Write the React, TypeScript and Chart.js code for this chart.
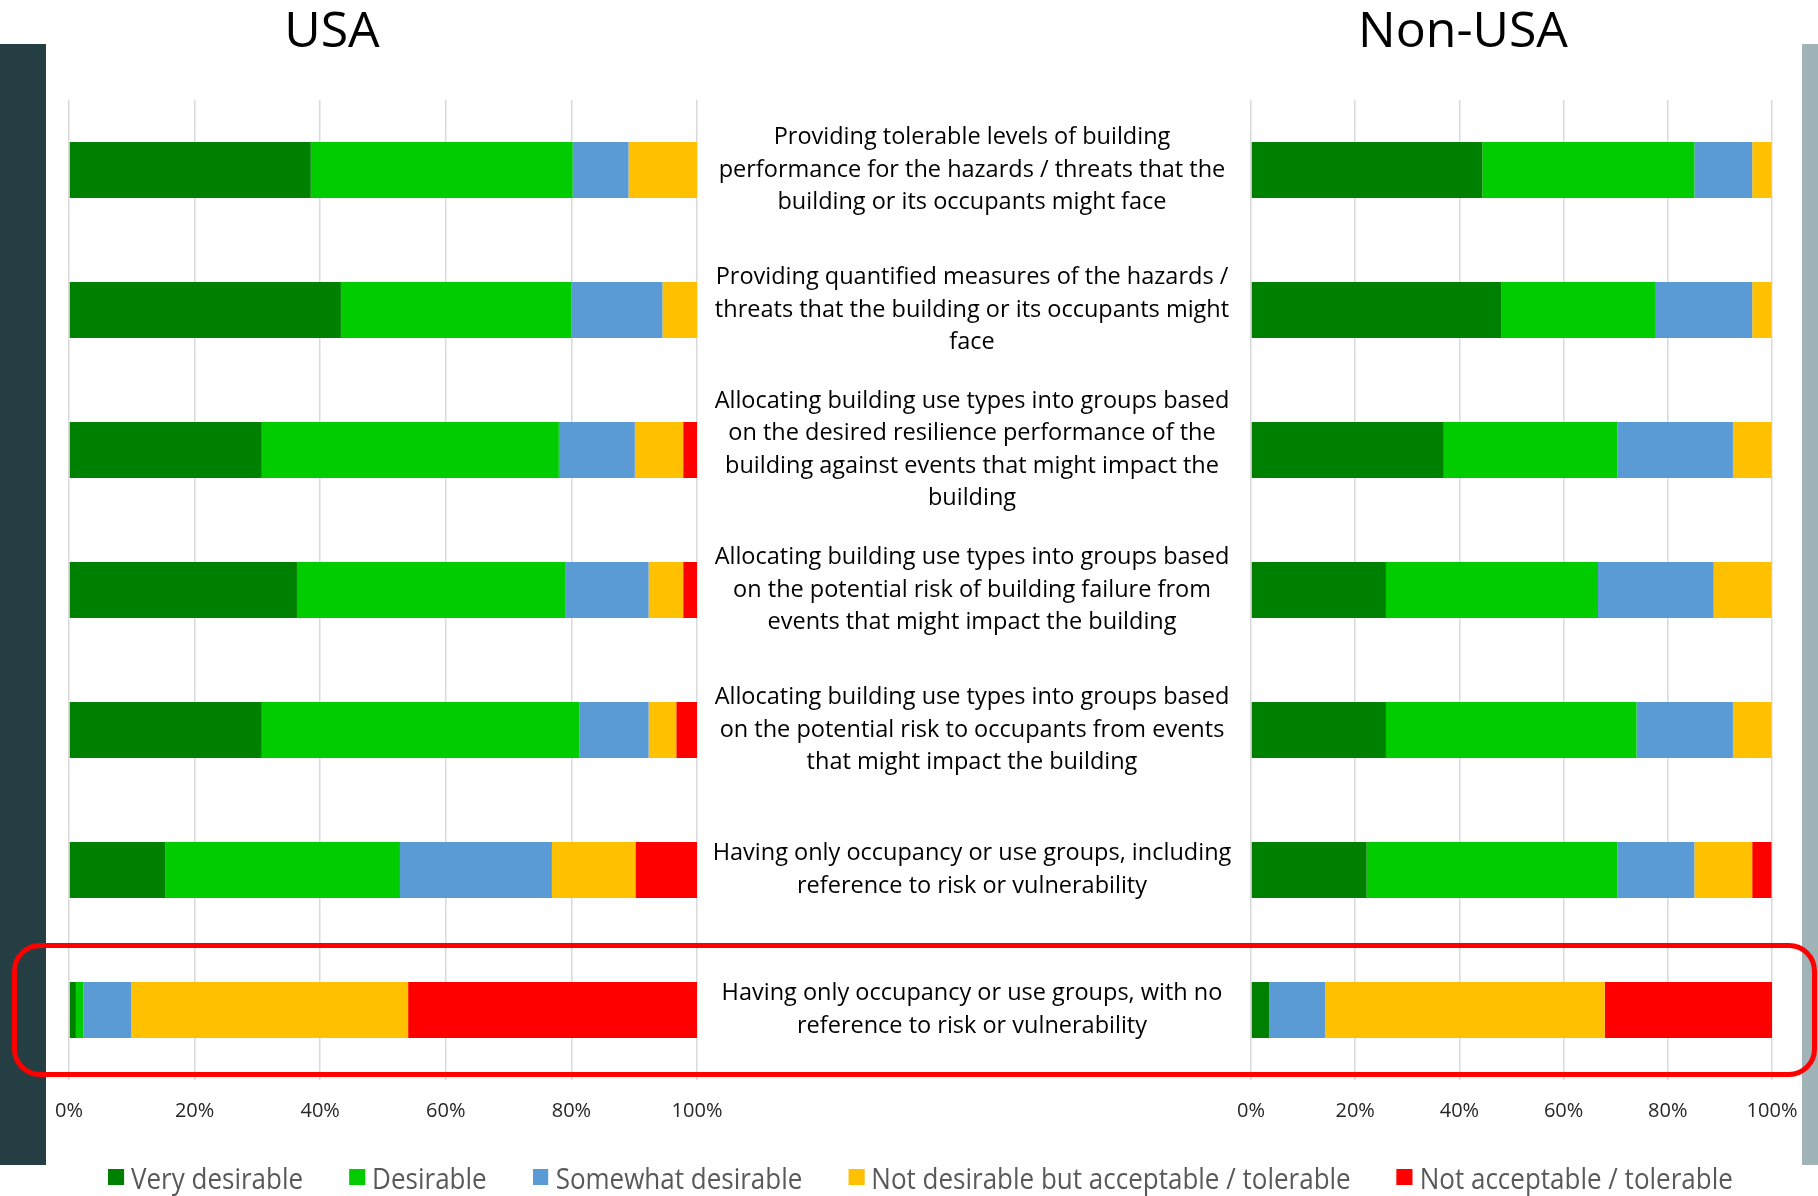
import React, { useEffect, useRef } from 'react';
import { Chart, registerables } from 'chart.js';

Chart.register(...registerables);

// ---------- data ----------
const categories: string[][] = [
  ['Providing tolerable levels of building', 'performance for the hazards / threats that the', 'building or its occupants might face'],
  ['Providing quantified measures of the hazards /', 'threats that the building or its occupants might', 'face'],
  ['Allocating building use types into groups based', 'on the desired resilience performance of the', 'building against events that might impact the', 'building'],
  ['Allocating building use types into groups based', 'on the potential risk of building failure from', 'events that might impact the building'],
  ['Allocating building use types into groups based', 'on the potential risk to occupants from events', 'that might impact the building'],
  ['Having only occupancy or use groups, including', 'reference to risk or vulnerability'],
  ['Having only occupancy or use groups, with no', 'reference to risk or vulnerability'],
];

const seriesNames = [
  'Very desirable',
  'Desirable',
  'Somewhat desirable',
  'Not desirable but acceptable / tolerable',
  'Not acceptable / tolerable',
];
const seriesColors = ['#008000', '#00CC00', '#5B9BD5', '#FFC000', '#FF0000'];

const usaVeryDesirable = [38.5, 43.3, 30.7, 36.3, 30.7, 15.3, 1.1];
const usaDesirable = [41.7, 36.7, 47.3, 42.8, 50.6, 37.4, 1.2];
const usaSomewhat = [8.9, 14.5, 12.1, 13.2, 11.0, 24.2, 7.6];
const usaNotDesirable = [10.9, 5.5, 7.7, 5.5, 4.4, 13.3, 44.1];
const usaNotAcceptable = [0, 0, 2.2, 2.2, 3.3, 9.9, 46.1];

const nonUsaVeryDesirable = [44.4, 48.1, 37.0, 25.9, 25.9, 22.2, 3.5];
const nonUsaDesirable = [40.7, 29.6, 33.3, 40.7, 48.1, 48.1, 0];
const nonUsaSomewhat = [11.1, 18.5, 22.2, 22.2, 18.5, 14.8, 10.7];
const nonUsaNotDesirable = [3.7, 3.7, 7.4, 11.1, 7.4, 11.1, 53.7];
const nonUsaNotAcceptable = [0, 0, 0, 0, 0, 3.7, 32.1];

const xTickStep = 20;
const xTickSuffix = '%';

const panelTitles = ['USA', 'Non-USA'];

// ---------- helpers ----------
const FONT = "'Open Sans', 'Noto Sans', sans-serif";

function buildDatasets(series: number[][]) {
  return series.map((values, i) => ({
    label: seriesNames[i],
    data: values,
    backgroundColor: seriesColors[i],
    borderWidth: 0,
    categoryPercentage: 0.4,
    barPercentage: 1,
  }));
}

function xScale() {
  return {
    stacked: true,
    min: 0,
    max: 100,
    ticks: {
      stepSize: xTickStep,
      callback: (v: any) => v + xTickSuffix,
      color: '#262626',
      font: { family: FONT, size: 20 },
      padding: 19,
    },
    grid: { color: '#D9D9D9', lineWidth: 1.5, drawTicks: false },
    border: { display: false },
    afterFit: (s: any) => {
      s.height = 50;
    },
  };
}

function measureWidest(lines: string[][], font: string) {
  const c = document.createElement('canvas');
  const ctx = c.getContext('2d')!;
  ctx.font = font;
  let w = 0;
  lines.forEach((l) => l.forEach((t) => (w = Math.max(w, ctx.measureText(t).width))));
  return w;
}

export default function App() {
  const usaRef = useRef<HTMLCanvasElement>(null);
  const nonRef = useRef<HTMLCanvasElement>(null);

  useEffect(() => {
    const usa = new Chart(usaRef.current!, {
      type: 'bar',
      data: {
        labels: categories,
        datasets: buildDatasets([usaVeryDesirable, usaDesirable, usaSomewhat, usaNotDesirable, usaNotAcceptable]) as any,
      },
      options: {
        indexAxis: 'y',
        responsive: false,
        animation: false,
        layout: { padding: { left: 69, right: 83, top: 100, bottom: 66 } },
        plugins: { legend: { display: false }, tooltip: { enabled: false }, title: { display: false } },
        scales: {
          x: xScale() as any,
          y: { stacked: true, display: false },
        },
      },
    });

    const labelSize = 23.5;
    const widest = measureWidest(categories, `${labelSize}px ${FONT}`);
    const labelPad = 279 - widest / 2;

    const non = new Chart(nonRef.current!, {
      type: 'bar',
      data: {
        labels: categories,
        datasets: buildDatasets([
          nonUsaVeryDesirable,
          nonUsaDesirable,
          nonUsaSomewhat,
          nonUsaNotDesirable,
          nonUsaNotAcceptable,
        ]) as any,
      },
      options: {
        indexAxis: 'y',
        responsive: false,
        animation: false,
        layout: { padding: { left: 0, right: 46, top: 100, bottom: 66 } },
        plugins: { legend: { display: false }, tooltip: { enabled: false }, title: { display: false } },
        scales: {
          x: xScale() as any,
          y: {
            stacked: true,
            position: 'left',
            grid: { display: false, drawTicks: false },
            border: { display: false },
            ticks: {
              autoSkip: false,
              crossAlign: 'center',
              padding: labelPad,
              color: '#000000',
              font: { family: FONT, size: labelSize, lineHeight: 32.5 / labelSize },
            },
            afterFit: (s: any) => {
              s.width = 554;
            },
          } as any,
        },
      },
    });

    return () => {
      usa.destroy();
      non.destroy();
    };
  }, []);

  const titleStyle = (cx: number): React.CSSProperties => ({
    position: 'absolute',
    left: cx - 200,
    width: 400,
    top: 3,
    textAlign: 'center',
    fontFamily: FONT,
    fontSize: 50,
    lineHeight: '50px',
    color: '#000',
  });

  const lgScale = 26 / 29;

  return (
    <div
      style={{
        position: 'fixed',
        left: 0,
        top: 0,
        width: 1818,
        height: 1196,
        background: '#ffffff',
        overflow: 'hidden',
      }}
    >
      <div style={{ position: 'absolute', left: 0, top: 44, width: 46, height: 1121, background: '#253E44' }} />
      <div style={{ position: 'absolute', left: 1802, top: 44, width: 16, height: 1121, background: '#A0B3B7' }} />

      <div style={titleStyle(332)}>{panelTitles[0]}</div>
      <div style={titleStyle(1463)}>{panelTitles[1]}</div>

      <canvas ref={usaRef} width={780} height={1196} style={{ position: 'absolute', left: 0, top: 0, width: 780, height: 1196 }} />
      <canvas ref={nonRef} width={1121} height={1196} style={{ position: 'absolute', left: 697, top: 0, width: 1121, height: 1196 }} />

      <div
        style={{
          position: 'absolute',
          left: 12,
          top: 943,
          width: 1805,
          height: 134,
          boxSizing: 'border-box',
          border: '5px solid #FF0000',
          borderRadius: 28,
        }}
      />

      <div
        style={{
          position: 'absolute',
          left: 108,
          top: 1156,
          height: 42,
          display: 'flex',
          alignItems: 'center',
          fontFamily: FONT,
          fontSize: 29,
          color: '#595959',
          whiteSpace: 'nowrap',
          transform: `scaleX(${lgScale})`,
          transformOrigin: 'left center',
        }}
      >
        {seriesNames.map((n, i) => (
          <div key={n} style={{ display: 'flex', alignItems: 'center', marginRight: 46 / lgScale }}>
            <div style={{ width: 16 / lgScale, height: 16, background: seriesColors[i], marginRight: 7 / lgScale }} />
            <span>{n}</span>
          </div>
        ))}
      </div>
    </div>
  );
}
